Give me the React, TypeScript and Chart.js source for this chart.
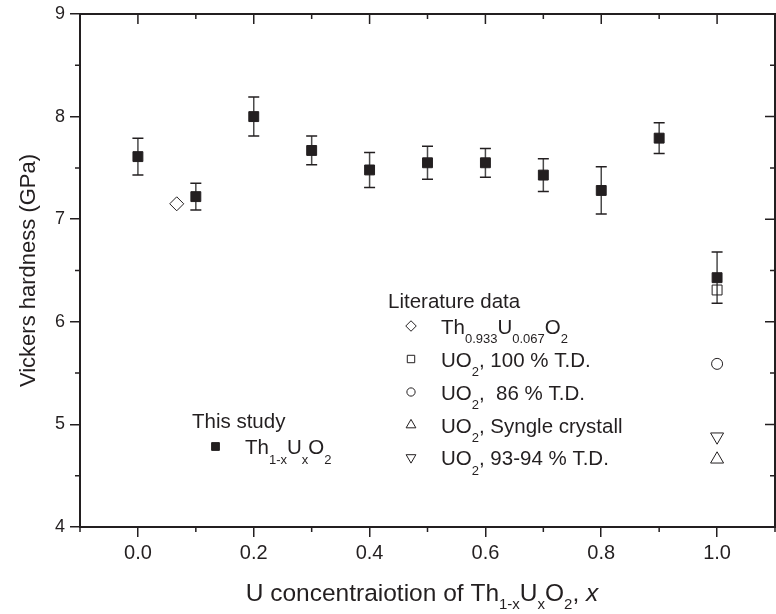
import React, { useEffect, useRef } from 'react';
import { Chart, registerables } from 'chart.js';
import { drawPoint } from 'chart.js/helpers';

Chart.register(...registerables);

// ---------- data ----------
const xValues = [0, 0.1, 0.2, 0.3, 0.4, 0.5, 0.6, 0.7, 0.8, 0.9, 1.0];
const hardness = [7.61, 7.22, 8.0, 7.67, 7.48, 7.55, 7.55, 7.43, 7.28, 7.79, 6.43];
const hardnessErr = [0.18, 0.13, 0.19, 0.14, 0.17, 0.16, 0.14, 0.16, 0.23, 0.15, 0.25];

const litThU = [{ x: 0.067, y: 7.15 }];
const litUO2_100 = [{ x: 1.0, y: 6.31 }];
const litUO2_86 = [{ x: 1.0, y: 5.59 }];
const litUO2_single = [{ x: 1.0, y: 4.66 }];
const litUO2_93 = [{ x: 1.0, y: 4.88 }];

const xTicks = [0, 0.2, 0.4, 0.6, 0.8, 1.0];
const xMinorTicks = [-0.1, 0.1, 0.3, 0.5, 0.7, 0.9, 1.1];
const yTicks = [4, 5, 6, 7, 8, 9];
const yMinorTicks = [4.5, 5.5, 6.5, 7.5, 8.5];

type Run = { t: string; sub?: boolean; italic?: boolean };
const thisStudyTitle = 'This study';
const thisStudyLabel: Run[] = [{ t: 'Th' }, { t: '1-x', sub: true }, { t: 'U' }, { t: 'x', sub: true }, { t: 'O' }, { t: '2', sub: true }];
const literatureTitle = 'Literature data';
const literatureLabels: Run[][] = [
  [{ t: 'Th' }, { t: '0.933', sub: true }, { t: 'U' }, { t: '0.067', sub: true }, { t: 'O' }, { t: '2', sub: true }],
  [{ t: 'UO' }, { t: '2', sub: true }, { t: ', 100 % T.D.' }],
  [{ t: 'UO' }, { t: '2', sub: true }, { t: ',  86 % T.D.' }],
  [{ t: 'UO' }, { t: '2', sub: true }, { t: ', Syngle crystall' }],
  [{ t: 'UO' }, { t: '2', sub: true }, { t: ', 93-94 % T.D.' }],
];
const yTitle = 'Vickers hardness (GPa)';
const xTitle: Run[] = [{ t: 'U concentraiotion of Th' }, { t: '1-x', sub: true }, { t: 'U' }, { t: 'x', sub: true }, { t: 'O' }, { t: '2', sub: true }, { t: ', ' }, { t: 'x', italic: true }];

// ---------- styles ----------
const FONT = "'Liberation Sans', Arial, Helvetica, sans-serif";
const INK = '#231f20';
const CLEAR = 'rgba(0,0,0,0)';

const litStyles = [
  { pointStyle: 'rectRot', radius: 7, rotation: 0 },
  { pointStyle: 'rect', radius: 7, rotation: 0 },
  { pointStyle: 'circle', radius: 5.5, rotation: 0 },
  { pointStyle: 'triangle', radius: 7.5, rotation: 0 },
  { pointStyle: 'triangle', radius: 7.5, rotation: 180 },
];

function drawRich(ctx: CanvasRenderingContext2D, runs: Run[], x: number, baseline: number, size: number, subSize: number, subDrop: number, align: 'left' | 'center') {
  ctx.save();
  ctx.textBaseline = 'alphabetic';
  ctx.textAlign = 'left';
  ctx.fillStyle = INK;
  const fontOf = (r: Run) => `${r.italic ? 'italic ' : ''}${r.sub ? subSize : size}px ${FONT}`;
  const widths = runs.map((r) => {
    ctx.font = fontOf(r);
    return ctx.measureText(r.t).width;
  });
  const total = widths.reduce((a, b) => a + b, 0);
  let cx = align === 'center' ? x - total / 2 : x;
  runs.forEach((r, i) => {
    ctx.font = fontOf(r);
    ctx.fillText(r.t, cx, baseline + (r.sub ? subDrop : 0));
    cx += widths[i];
  });
  ctx.restore();
}

const decorPlugin = {
  id: 'decor',
  beforeDatasetsDraw(chart: any) {
    const { ctx, scales } = chart;
    const xs = scales.x, ys = scales.y;
    ctx.save();
    xValues.forEach((xv, i) => {
      const px = xs.getPixelForValue(xv);
      const top = ys.getPixelForValue(hardness[i] + hardnessErr[i]);
      const bot = ys.getPixelForValue(hardness[i] - hardnessErr[i]);
      ctx.strokeStyle = '#4a4a4a';
      ctx.lineWidth = 1.5;
      ctx.beginPath();
      ctx.moveTo(px, top);
      ctx.lineTo(px, bot);
      ctx.stroke();
      ctx.strokeStyle = INK;
      ctx.beginPath();
      ctx.moveTo(px - 5.5, top);
      ctx.lineTo(px + 5.5, top);
      ctx.moveTo(px - 5.5, bot);
      ctx.lineTo(px + 5.5, bot);
      ctx.stroke();
    });
    ctx.restore();
  },
  afterDraw(chart: any) {
    const { ctx, chartArea, scales } = chart;
    const xs = scales.x, ys = scales.y;
    const { left, right, top, bottom } = chartArea;
    ctx.save();
    ctx.strokeStyle = INK;
    ctx.lineWidth = 2;
    // frame top & right
    ctx.beginPath();
    ctx.moveTo(left - 1, top);
    ctx.lineTo(right, top);
    ctx.lineTo(right, bottom + 1);
    ctx.stroke();
    ctx.lineWidth = 1.5;
    ctx.beginPath();
    // top ticks (inward)
    xTicks.forEach((v) => { const p = xs.getPixelForValue(v); ctx.moveTo(p, top); ctx.lineTo(p, top + 10); });
    xMinorTicks.forEach((v) => { const p = xs.getPixelForValue(v); ctx.moveTo(p, top); ctx.lineTo(p, top + 5); });
    // bottom minor (outward)
    xMinorTicks.forEach((v) => { const p = xs.getPixelForValue(v); ctx.moveTo(p, bottom); ctx.lineTo(p, bottom + 5); });
    // left minor (outward)
    yMinorTicks.forEach((v) => { const p = ys.getPixelForValue(v); ctx.moveTo(left, p); ctx.lineTo(left - 5, p); });
    // right ticks (inward)
    yTicks.forEach((v) => { const p = ys.getPixelForValue(v); ctx.moveTo(right, p); ctx.lineTo(right - 10, p); });
    yMinorTicks.forEach((v) => { const p = ys.getPixelForValue(v); ctx.moveTo(right, p); ctx.lineTo(right - 5, p); });
    // corner ticks crossing the left axis at 4 and 9
    [4, 9].forEach((v) => { const p = ys.getPixelForValue(v); ctx.moveTo(left, p); ctx.lineTo(left + 5, p); });
    ctx.stroke();

    // y title
    ctx.save();
    ctx.translate(29, (top + bottom) / 2);
    ctx.rotate(-Math.PI / 2);
    ctx.fillStyle = INK;
    ctx.font = `22px ${FONT}`;
    ctx.textAlign = 'center';
    ctx.textBaseline = 'middle';
    ctx.fillText(yTitle, 0, 0);
    ctx.restore();

    // x title
    drawRich(ctx, xTitle, 422, 601, 24.5, 15, 8, 'center');

    // legend: literature
    ctx.fillStyle = INK;
    ctx.font = `20.5px ${FONT}`;
    ctx.textAlign = 'left';
    ctx.textBaseline = 'alphabetic';
    ctx.fillText(literatureTitle, 388, 308);
    const rowY = [326, 359, 392, 425, 457.5];
    literatureLabels.forEach((runs, i) => {
      const st = litStyles[i];
      ctx.save();
      ctx.strokeStyle = INK;
      ctx.fillStyle = CLEAR;
      ctx.lineWidth = 1;
      drawPoint(ctx, { pointStyle: st.pointStyle, radius: st.radius * 0.75, rotation: st.rotation, borderWidth: 1 } as any, 411, rowY[i]);
      ctx.restore();
      drawRich(ctx, runs, 441, rowY[i] + 7.5, 20.5, 13, 9.5, 'left');
    });

    // legend: this study
    ctx.fillStyle = INK;
    ctx.font = `20.5px ${FONT}`;
    ctx.textAlign = 'left';
    ctx.fillText(thisStudyTitle, 192, 428);
    ctx.save();
    ctx.strokeStyle = INK;
    ctx.fillStyle = INK;
    ctx.lineWidth = 1;
    drawPoint(ctx, { pointStyle: 'rect', radius: 5.5, rotation: 0, borderWidth: 1 } as any, 215.5, 446.5);
    ctx.restore();
    drawRich(ctx, thisStudyLabel, 245, 454, 20.5, 13, 9.5, 'left');
    ctx.restore();
  },
};

export default function App() {
  const ref = useRef<HTMLCanvasElement | null>(null);
  useEffect(() => {
    if (!ref.current) return;
    const open = (data: any[], i: number) => ({
      label: 'lit' + i,
      data,
      pointStyle: litStyles[i].pointStyle,
      pointRadius: litStyles[i].radius,
      pointRotation: litStyles[i].rotation,
      backgroundColor: CLEAR,
      borderColor: INK,
      pointBorderWidth: 1,
      showLine: false,
    });
    const chart = new Chart(ref.current, {
      type: 'scatter',
      data: {
        datasets: [
          {
            label: 'This study',
            data: xValues.map((x, i) => ({ x, y: hardness[i] })),
            pointStyle: 'rect',
            pointRadius: 7,
            backgroundColor: INK,
            borderColor: INK,
            pointBorderWidth: 1,
          },
          open(litThU, 0),
          open(litUO2_100, 1),
          open(litUO2_86, 2),
          open(litUO2_single, 3),
          open(litUO2_93, 4),
        ] as any,
      },
      options: {
        animation: false,
        responsive: false,
        devicePixelRatio: 1,
        layout: { autoPadding: false, padding: { top: 14, right: 1, left: 0, bottom: 0 } },
        plugins: { legend: { display: false }, tooltip: { enabled: false } },
        scales: {
          x: {
            type: 'linear',
            min: -0.1,
            max: 1.1,
            afterBuildTicks: (s: any) => { s.ticks = xTicks.map((v) => ({ value: v })); },
            afterFit: (s: any) => { s.height = 87; s.paddingLeft = 0; s.paddingRight = 0; },
            ticks: {
              callback: (v: any) => Number(v).toFixed(1),
              font: { size: 20, family: FONT },
              color: INK,
              padding: 4,
              maxRotation: 0,
              autoSkip: false,
            },
            grid: { display: true, drawOnChartArea: false, drawTicks: true, tickLength: 10, color: INK, lineWidth: 1.5 },
            border: { display: true, color: INK, width: 2 },
          },
          y: {
            type: 'linear',
            min: 4,
            max: 9,
            afterBuildTicks: (s: any) => { s.ticks = yTicks.map((v) => ({ value: v })); },
            afterFit: (s: any) => { s.width = 80; s.paddingTop = 0; s.paddingBottom = 0; },
            ticks: {
              callback: (v: any) => String(v),
              font: { size: 18, family: FONT },
              color: INK,
              padding: 5,
              autoSkip: false,
            },
            grid: { display: true, drawOnChartArea: false, drawTicks: true, tickLength: 10, color: INK, lineWidth: 1.5 },
            border: { display: true, color: INK, width: 2 },
          },
        },
      } as any,
      plugins: [decorPlugin],
    });
    return () => chart.destroy();
  }, []);
  return (
    <div style={{ position: 'fixed', left: 0, top: 0, width: 776, height: 614, background: '#fff' }}>
      <canvas ref={ref} width={776} height={614} style={{ display: 'block' }} />
    </div>
  );
}
